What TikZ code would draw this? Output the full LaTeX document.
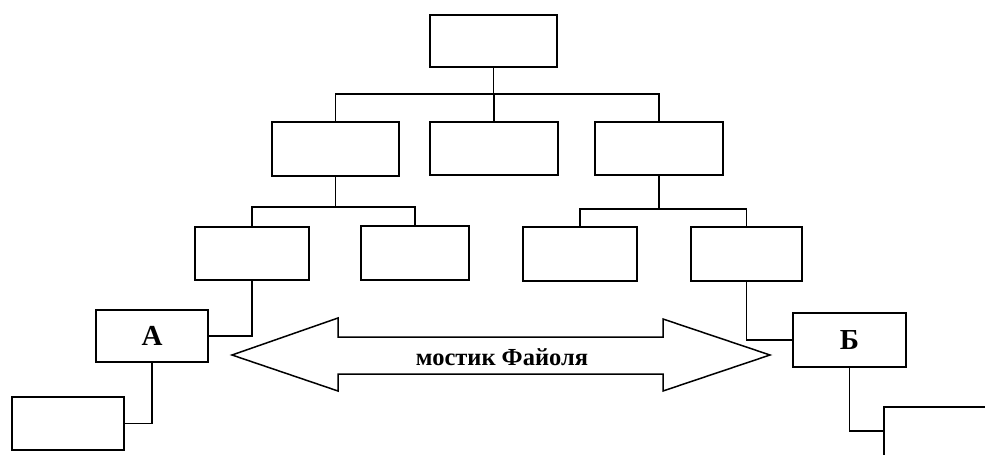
\documentclass[tikz,border=0pt]{standalone}
\usepackage{fontspec}
\setmainfont{Liberation Serif}
\usetikzlibrary{positioning}

\tikzset{
  blk/.style={draw, line width=1.8pt, inner sep=0pt},
  lettr/.style={font=\fontsize{29}{34}\selectfont\bfseries}
}

\begin{document}
\begin{tikzpicture}[x=1pt,y=-1pt,line width=1.8pt]
\clip (0,0) rectangle (985,455);
% empty boxes of the tree
\foreach \n/\x/\y/\w/\h in {top/493.5/41/127/52, m1/335.5/149/127/54, m2/494/148.5/128/53,
  m3/659/148.5/128/53, c1/252/253.5/114/53, c2/415/253/108/54, c3/580/254/114/54,
  c4/746.5/254/111/54, bl/68/423.5/112/53, br/940/440/112/66} {
  \node[blk, minimum width=\w pt, minimum height=\h pt] (\n) at (\x,\y) {};
}
\node[blk, lettr, minimum width=112pt, minimum height=52pt] (A) at (152,336) {А};
\node[blk, lettr, minimum width=113pt, minimum height=54pt] (B) at (849.5,340) {Б};
\coordinate (brin) at (884,431);

% tree connectors
\draw (top.south) -- ++(0,26) coordinate (j0);
\draw (m1) |- (j0) -| (m3);
\draw (m2) -- (m2 |- j0);
\draw (m1.south) -- ++(0,30) coordinate (j1);
\draw (c1) |- (j1) -| (c2);
\draw (m3.south) -- ++(0,33) coordinate (j2);
\draw (c3) |- (j2) -| (c4);
\draw (c1) |- (A);
\draw (c4) |- (B);
\draw (A) |- (bl);
\draw (B) |- (brin);

% the bridge
\draw[line width=1.5pt] (232,355) -- (338,318) -- (338,337) -- (663,337) -- (663,319)
  -- (770,355) -- (663,391) -- (663,374) -- (338,374) -- (338,391) -- cycle;
\node[anchor=base, font=\fontsize{24.5}{28}\selectfont\bfseries] (lbl) at (502,365) {мостик Файоля};
\end{tikzpicture}
\end{document}
